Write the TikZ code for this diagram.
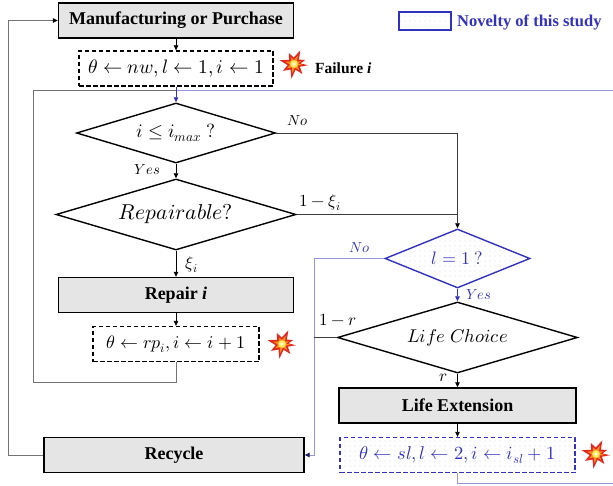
\documentclass[tikz,border=0pt]{standalone}
\usepackage{fontspec}
\usepackage{unicode-math}
\setmainfont{Liberation Serif}
\setmathfont{Latin Modern Math}
\usetikzlibrary{shapes.geometric,arrows.meta,patterns.meta}
\definecolor{nblue}{RGB}{50,50,190}
\definecolor{lblue}{RGB}{150,150,222}
\definecolor{boxgray}{RGB}{229,229,229}
\definecolor{lgray}{RGB}{115,115,115}
\definecolor{dgray}{RGB}{60,60,60}
\definecolor{dotblue}{RGB}{140,140,215}
\definecolor{boomred}{RGB}{225,40,30}
\definecolor{boomor}{RGB}{250,140,30}
\definecolor{boomye}{RGB}{255,235,90}
\tikzset{
  >={Triangle[length=5pt,width=4.5pt]},
  procbox/.style={draw, line width=1.4pt, fill=boxgray, minimum height=35pt, inner sep=0pt,
    font=\fontsize{18}{21}\selectfont\bfseries},
  dashbox/.style={draw, line width=1.3pt, dash pattern=on 4.5pt off 2.5pt, minimum height=35pt,
    inner sep=0pt, font=\fontsize{18}{21}\selectfont},
  decision/.style={diamond, draw, line width=1.4pt, inner sep=0pt, aspect=3},
  novel/.style={draw=nblue, text=nblue, pattern={Dots[distance=5pt,radius=0.45pt]}, pattern color=dotblue},
  conn/.style={line width=0.8pt},
  lab/.style={inner sep=0pt, font=\fontsize{17}{20}\selectfont},
  yn/.style={inner sep=0pt, font=\fontsize{14.5}{17}\selectfont},
  boom/.pic={
    \fill[boomred] (5:14) -- (25:6.5) -- (50:13) -- (75:6) -- (100:15) -- (122:6.5) -- (148:13) -- (170:6.5)
      -- (195:15) -- (220:6.5) -- (245:12) -- (268:6.5) -- (295:15) -- (318:6.5) -- (340:12) -- (355:6.5) -- cycle;
    \fill[boomor, scale=0.62] (5:14) -- (25:6.5) -- (50:13) -- (75:6) -- (100:15) -- (122:6.5) -- (148:13) -- (170:6.5)
      -- (195:15) -- (220:6.5) -- (245:12) -- (268:6.5) -- (295:15) -- (318:6.5) -- (340:12) -- (355:6.5) -- cycle;
    \fill[boomye] (0,0) circle (3.8);
    \fill[white] (0,0) circle (1.7);
  }
}
\begin{document}
\begin{tikzpicture}[x=1pt,y=-1pt]
\useasboundingbox (0,0) rectangle (613,486);

% nodes
\node[procbox, minimum width=235pt] (mfg) at (176,20.5) {Manufacturing or Purchase};
\node[dashbox, minimum width=194pt, font=\fontsize{19.5}{22}\selectfont] (init) at (176,68.5) {$\theta\leftarrow nw, l\leftarrow 1, i\leftarrow 1$};
\node[decision, minimum width=199pt, minimum height=60pt, font=\fontsize{19}{22}\selectfont] (d1) at (176,133) {$i\leq i_{max}\ ?$};
\node[decision, minimum width=240pt, minimum height=71pt, font=\fontsize{21.5}{24}\selectfont] (d2) at (176,214.5) {$Repairable?$};
\node[procbox, minimum width=235pt] (rep) at (176,295) {Repair \textit{i}};
\node[dashbox, minimum width=166pt] (upd) at (176,344) {$\theta\leftarrow rp_i, i\leftarrow i+1$};
\node[procbox, minimum width=260pt] (rec) at (174,455) {Recycle};
\node[decision, novel, minimum width=145pt, minimum height=59pt, font=\fontsize{18}{21}\selectfont] (d3) at (457.5,258.5) {$l=1\ ?$};
\node[decision, minimum width=240pt, minimum height=71pt, font=\fontsize{18.5}{22}\selectfont] (d4) at (457.5,337.5) {$Life\ Choice$};
\node[procbox, minimum width=237pt] (le) at (457.5,405.5) {Life Extension};
\node[dashbox, novel, minimum width=235pt, font=\fontsize{18.5}{21}\selectfont] (sl) at (457.5,455) {$\theta\leftarrow sl, l\leftarrow 2, i\leftarrow i_{sl}+1$};

% legend and failure note
\node[novel, line width=1.5pt, minimum width=52pt, minimum height=18pt, inner sep=0pt] (leg) at (425,21) {};
\node[anchor=west, inner sep=0pt, text=nblue, font=\fontsize{16.5}{19}\selectfont\bfseries] (legt) at (457,22) {Novelty of this study};
\node[anchor=west, inner sep=0pt, font=\fontsize{15.5}{19}\selectfont\bfseries] (fail) at (315,68) {Failure \textit{i}};

\pic at (294,64) {boom};
\pic at (282,344) {boom};
\pic at (596,454) {boom};

% coordinates
\coordinate (jn) at (176,90.5);
\coordinate (lp) at (33,382);
\coordinate (rb) at (614,483);
\coordinate (nb) at (314,258.5);
\coordinate (ol) at (8,455);

% connectors
\draw[conn, lgray] (upd.south) -- (upd.south |- lp) -- (lp) -- (lp |- jn) -- (jn);
\draw[conn, lblue] (sl.south) -- (sl.south |- rb) -- (rb) -- (rb |- jn) -- (jn);
\draw[conn, ->] (mfg.south) -- (init.north);
\draw[conn, nblue, ->] (init.south) -- (d1.north);
\draw[conn, dgray, -{Triangle[length=5pt,width=4.5pt,color=black]}] (d1.east) -- (d1.east -| d3.north) -- (d3.north);
\draw[conn, dgray] (d2.east) -- (d2.east -| d3.north);
\draw[conn, ->] (d1.south) -- (d2.north);
\draw[conn, ->] (d2.south) -- (rep.north);
\draw[conn, ->] (rep.south) -- (upd.north);
\draw[conn, lblue, -{Triangle[length=5pt,width=4.5pt,color=nblue!50!black]}] (d3.west) -- (nb) -- (nb |- rec.east) -- (rec.east);
\draw[conn, dgray] (d4.west) -- (d4.west -| nb);
\draw[conn, nblue, ->] (d3.south) -- (d4.north);
\draw[conn, ->] (d4.south) -- (le.north);
\draw[conn, ->] (le.south) -- (sl.north);
\draw[conn, lgray, -{Triangle[length=5pt,width=4.5pt,color=black]}] (rec.west) -- (ol) -- (ol |- mfg.west) -- (mfg.west);

% labels
\node[yn] (lno1) at (298,121) {$No$};
\node[yn] (lyes1) at (147.5,170) {$Yes$};
\node[lab] (lxi1) at (320,203) {$1-\xi_i$};
\node[lab] (lxi2) at (192,265) {$\xi_i$};
\node[yn, text=nblue] (lno2) at (360,248) {$No$};
\node[yn, text=nblue] (lyes2) at (479,295) {$Yes$};
\node[lab] (lr1) at (338,320) {$1-r$};
\node[lab] (lr2) at (443,378) {$r$};
\end{tikzpicture}
\end{document}
